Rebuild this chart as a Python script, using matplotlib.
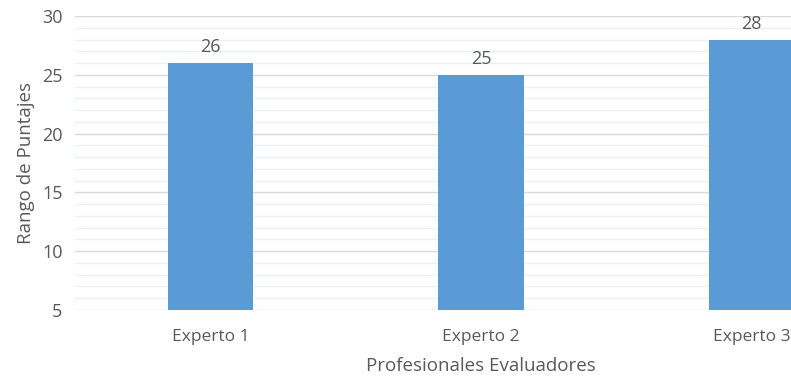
import matplotlib.pyplot as plt
from matplotlib.ticker import MultipleLocator

categories = ['Experto 1', 'Experto 2', 'Experto 3']
puntajes = [26, 25, 28]

plt.rcParams['font.family'] = ['Open Sans', 'DejaVu Sans']
text_color = '#595959'

fig = plt.figure(figsize=(7.91, 3.77), dpi=100)
# the original image cuts off the right side of the plot area
ax = fig.add_axes([0.0948, 0.1777, 1.0265, 0.7799])

x = range(len(categories))
bars = ax.bar(x, puntajes, width=0.315, bottom=0, color='#5b9bd5', zorder=3)

ax.set_xlim(-0.5, len(categories) - 0.5)
ax.set_ylim(5, 30)
ax.yaxis.set_major_locator(MultipleLocator(5))
ax.yaxis.set_minor_locator(MultipleLocator(1))
ax.grid(axis='y', which='major', color='#d9d9d9', linewidth=1, zorder=0)
ax.grid(axis='y', which='minor', color='#ebf1f8', linewidth=1, zorder=0)

for s in ax.spines.values():
    s.set_visible(False)
ax.tick_params(which='both', length=0)
ax.tick_params(axis='y', labelsize=13, labelcolor=text_color, pad=9)
ax.tick_params(axis='x', labelsize=12.5, labelcolor=text_color, pad=14)
ax.set_xticks(list(x))
ax.set_xticklabels(categories)

for b, v in zip(bars, puntajes):
    ax.annotate(str(v), (b.get_x() + b.get_width() / 2, v), xytext=(0, 5),
                textcoords='offset points', ha='center', va='bottom',
                fontsize=13, color=text_color)

ax.set_ylabel('Rango de Puntajes', fontsize=13.5, color=text_color, labelpad=5)
fig.text(481 / 791, 1 - 366 / 377, 'Profesionales Evaluadores', ha='center',
         va='center', fontsize=13.5, color=text_color)

fig.savefig('out.png', dpi=100)
